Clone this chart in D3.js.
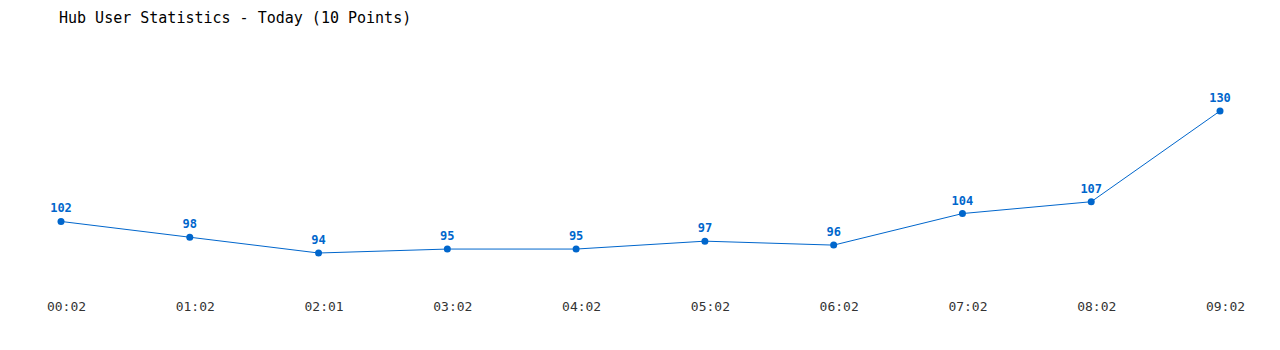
<!DOCTYPE html>
<html>
<head>
<meta charset="utf-8">
<script src="https://cdn.jsdelivr.net/npm/d3@7"></script>
<style>
  body { margin: 0; background: #fff; }
  svg { display: block; }
</style>
</head>
<body>
<svg id="chart" width="1280" height="350"></svg>
<script>
const times = ['00:02', '01:02', '02:01', '03:02', '04:02', '05:02', '06:02', '07:02', '08:02', '09:02'];
const users = [102, 98, 94, 95, 95, 97, 96, 104, 107, 130];
const title = 'Hub User Statistics - Today (10 Points)';

const blue = '#0066cc';
const font = '"DejaVu Sans Mono", "Liberation Mono", monospace';

const svg = d3.select('#chart');

const x = d3.scalePoint().domain(times).range([61, 1220]);
const y = d3.scaleLinear().domain([94, 130]).range([253, 111]);

svg.append('text')
  .attr('x', 59)
  .attr('y', 23)
  .attr('font-family', font)
  .attr('font-size', 15)
  .attr('fill', '#000')
  .text(title);

// tick labels sit a few px right of the points in the original
const xAxis = d3.axisBottom(x).tickSize(0).tickPadding(0);
const gx = svg.append('g')
  .attr('transform', 'translate(5,302)')
  .call(xAxis);
gx.select('.domain').remove();
gx.selectAll('text')
  .attr('font-family', font)
  .attr('font-size', 13)
  .attr('fill', '#333')
  .attr('dy', '0.71em');

const data = times.map((t, i) => ({ t, v: users[i] }));

svg.append('path')
  .datum(data)
  .attr('fill', 'none')
  .attr('stroke', blue)
  .attr('stroke-width', 1)
  .attr('d', d3.line().x(d => x(d.t)).y(d => y(d.v)));

svg.selectAll('circle.pt')
  .data(data)
  .enter().append('circle')
  .attr('class', 'pt')
  .attr('cx', d => x(d.t))
  .attr('cy', d => y(d.v))
  .attr('r', 3.5)
  .attr('fill', blue);

svg.selectAll('text.lbl')
  .data(data)
  .enter().append('text')
  .attr('class', 'lbl')
  .attr('x', d => x(d.t))
  .attr('y', d => y(d.v) - 9)
  .attr('text-anchor', 'middle')
  .attr('font-family', font)
  .attr('font-size', 12)
  .attr('font-weight', 'bold')
  .attr('fill', blue)
  .text(d => d.v);
</script>
</body>
</html>
